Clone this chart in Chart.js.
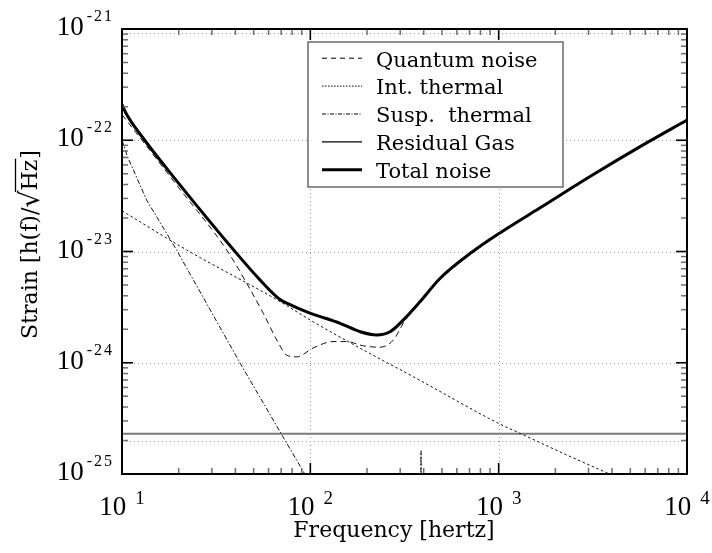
<!DOCTYPE html>
<html><head><meta charset="utf-8">
<script src="https://cdn.jsdelivr.net/npm/chart.js@4/dist/chart.umd.min.js"></script>
<style>html,body{margin:0;padding:0;background:#fff}canvas{display:block}</style>
</head><body>
<canvas id="c" width="712" height="553"></canvas>
<script>
// ---- data ----
const freqTotal = [10, 10.5, 13.2, 20, 39.8, 54, 69, 75, 99.5, 113, 144, 184, 225, 265, 312, 383, 489, 735, 1016, 1660, 3055, 5636, 10000];
const totalNoise = [2.09e-22, 1.75e-22, 1.0e-22, 4.1e-23, 1.0e-23, 5.56e-24, 3.7e-24, 3.43e-24, 2.79e-24, 2.6e-24, 2.26e-24, 1.9e-24, 1.78e-24, 1.9e-24, 2.43e-24, 3.55e-24, 5.75e-24, 1.01e-23, 1.47e-23, 2.47e-23, 4.72e-23, 8.77e-23, 1.52e-22];

const freqQuantum = [10, 10.5, 13.2, 20, 36, 45.9, 56.2, 66.4, 75, 84.7, 103.7, 132, 156, 191, 234, 276, 318, 383, 489, 735, 1016, 1660, 3055, 5636, 10000];
const quantumNoise = [1.7e-22, 1.53e-22, 9.3e-23, 3.75e-23, 1.03e-23, 5.19e-24, 2.79e-24, 1.6e-24, 1.17e-24, 1.13e-24, 1.36e-24, 1.55e-24, 1.55e-24, 1.42e-24, 1.38e-24, 1.6e-24, 2.4e-24, 3.47e-24, 5.6e-24, 0.99e-23, 1.45e-23, 2.45e-23, 4.68e-23, 8.7e-23, 1.5e-22];

const freqInt = [10, 22.1, 69, 99.5, 184, 352, 995, 1300, 2208, 3828, 10000];
const intThermal = [2.32e-23, 1.03e-23, 3.55e-24, 2.43e-24, 1.35e-24, 7.5e-25, 2.86e-25, 2.32e-25, 1.53e-25, 1.01e-25, 4.9e-26];

const freqSusp = [10, 10.7, 13.5, 19.5, 42.4, 69, 91.8, 126, 380, 387, 394, 1000, 10000];
const suspThermal = [1.0e-22, 7.1e-23, 2.91e-23, 1.03e-23, 9.9e-25, 2.4e-25, 1.05e-25, 4.2e-26, 1.5e-27, 1.62e-25, 1.5e-27, 1e-28, 1e-31];

const freqGas = [10, 10000];
const residualGas = [2.3e-25, 2.3e-25];

const xTickValues = [10, 100, 1000, 10000];
const xTickExponents = ['1', '2', '3', '4'];
const yTickValues = [1e-21, 1e-22, 1e-23, 1e-24, 1e-25];
const yTickExponents = ['-21', '-22', '-23', '-24', '-25'];
const xGridValues = [100, 1000];
const yGridValues = [9.2e-22, 1e-22, 1e-23, 1e-24, 2e-25];

const legendLabels = ['Quantum noise', 'Int. thermal', 'Susp.  thermal', 'Residual Gas', 'Total noise'];
const xTitle = 'Frequency [hertz]';

const pts = (xs, ys) => xs.map((x, i) => ({x, y: ys[i]}));

const datasets = [
  {label: legendLabels[4], data: pts(freqTotal, totalNoise), borderColor: '#000', borderWidth: 3, cubicInterpolationMode: 'monotone', order: 0, legendDash: [], legendWidth: 3, legendColor: '#000', legendPos: 4},
  {label: legendLabels[0], data: pts(freqQuantum, quantumNoise), borderColor: '#111', borderWidth: 1, borderDash: [6, 4], cubicInterpolationMode: 'monotone', order: 1, legendDash: [5, 4], legendWidth: 1, legendColor: '#000', legendPos: 0},
  {label: legendLabels[1], data: pts(freqInt, intThermal), borderColor: '#111', borderWidth: 1, borderDash: [2.5, 2.5], cubicInterpolationMode: 'monotone', order: 2, legendDash: [1.5, 1.5], legendWidth: 1, legendColor: '#000', legendPos: 1},
  {label: legendLabels[2], data: pts(freqSusp, suspThermal), borderColor: '#111', borderWidth: 1, borderDash: [5, 2, 1.5, 2], order: 3, legendDash: [4, 1.5, 1, 1.5], legendWidth: 1, legendColor: '#000', legendPos: 2},
  {label: legendLabels[3], data: pts(freqGas, residualGas), borderColor: '#7a7a7a', borderWidth: 2, order: 4, legendDash: [], legendWidth: 1.2, legendColor: '#000', legendPos: 3}
];

function supLabel(ctx, base, exp, x, yBase, yExp, baseFont, expFont, gap, align, spacing) {
  ctx.font = baseFont; const wb = ctx.measureText(base).width;
  ctx.font = expFont; ctx.letterSpacing = spacing; const we = ctx.measureText(exp).width;
  ctx.letterSpacing = '0px';
  const total = wb + gap + we;
  let x0 = align === 'right' ? x - total : x - total / 2;
  ctx.textAlign = 'left';
  ctx.font = baseFont; ctx.fillText(base, x0, yBase);
  ctx.font = expFont; ctx.letterSpacing = spacing; ctx.fillText(exp, x0 + wb + gap, yExp);
  ctx.letterSpacing = '0px';
}

const decor = {
  id: 'decor',
  beforeDatasetsDraw(chart) {
    const {ctx, chartArea: a, scales: {x, y}} = chart;
    ctx.save();
    ctx.strokeStyle = '#9a9a9a'; ctx.lineWidth = 1; ctx.setLineDash([1, 3]);
    for (const v of yGridValues) {
      const py = Math.round(y.getPixelForValue(v)) + 0.5;
      ctx.beginPath(); ctx.moveTo(a.left, py); ctx.lineTo(a.right, py); ctx.stroke();
    }
    for (const v of xGridValues) {
      const px = Math.round(x.getPixelForValue(v)) + 0.5;
      ctx.beginPath(); ctx.moveTo(px, a.top); ctx.lineTo(px, a.bottom); ctx.stroke();
    }
    ctx.restore();
  },
  afterDraw(chart) {
    const {ctx, chartArea: a, scales: {x, y}} = chart;
    ctx.save();
    ctx.setLineDash([]);
    // ticks
    const tick = (px, py, dx, dy, major) => {
      ctx.strokeStyle = major ? '#000' : '#6e6e6e';
      ctx.lineWidth = major ? 1.6 : 1.5;
      ctx.beginPath(); ctx.moveTo(px, py); ctx.lineTo(px + dx, py + dy); ctx.stroke();
    };
    for (let e = 1; e <= 4; e++) {
      for (let m = 1; m <= 9; m++) {
        const v = m * Math.pow(10, e);
        if (v > 10000) break;
        const major = m === 1;
        const L = major ? 11 : 6;
        const px = x.getPixelForValue(v);
        tick(px, a.bottom, 0, -L, major); tick(px, a.top, 0, L, major);
      }
    }
    for (let e = -25; e <= -21; e++) {
      for (let m = 1; m <= 9; m++) {
        const v = m * Math.pow(10, e);
        if (e === -21 && m > 1) break;
        const major = m === 1;
        const L = major ? 11 : 6;
        const py = y.getPixelForValue(v);
        tick(a.left, py, L, 0, major); tick(a.right, py, -L, 0, major);
      }
    }
    // border
    ctx.strokeStyle = '#000'; ctx.lineWidth = 2;
    ctx.strokeRect(a.left, a.top, a.right - a.left, a.bottom - a.top);
    // tick labels
    ctx.fillStyle = '#000'; ctx.textBaseline = 'alphabetic';
    xTickValues.forEach((v, i) => {
      const px = x.getPixelForValue(v);
      supLabel(ctx, '10', xTickExponents[i], px, a.bottom + 41, a.bottom + 30, '27px "Liberation Serif"', '19px "Liberation Serif"', 9, 'center', '0px');
    });
    yTickValues.forEach((v, i) => {
      const py = y.getPixelForValue(v);
      supLabel(ctx, '10', yTickExponents[i], a.left - 8, py + 6, py - 8, '27px "Liberation Serif"', '16px "Liberation Serif"', 3, 'right', '2px');
    });
    // x title
    ctx.font = '22px "DejaVu Serif"'; ctx.textAlign = 'center';
    ctx.fillText(xTitle, 394, 537);
    // y title
    ctx.save();
    ctx.translate(37, 245); ctx.rotate(-Math.PI / 2);
    ctx.textAlign = 'left';
    const p1 = 'Strain [h(f)/', p2 = '\u221A', p3 = 'Hz', p4 = ']';
    ctx.font = '22px "DejaVu Serif"';
    const w1 = ctx.measureText(p1).width, w3 = ctx.measureText(p3).width, w4 = ctx.measureText(p4).width;
    ctx.font = '27px "DejaVu Serif"';
    const w2 = ctx.measureText(p2).width;
    const s = -(w1 + w2 + w3 + w4) / 2;
    ctx.font = '22px "DejaVu Serif"'; ctx.fillText(p1, s, 0);
    ctx.font = '27px "DejaVu Serif"'; ctx.fillText(p2, s + w1, 2);
    ctx.font = '22px "DejaVu Serif"'; ctx.fillText(p3, s + w1 + w2, 0); ctx.fillText(p4, s + w1 + w2 + w3 + 1, 0);
    ctx.strokeStyle = '#000'; ctx.lineWidth = 1.3;
    ctx.beginPath(); ctx.moveTo(s + w1 + w2 - 1.5, -21.5); ctx.lineTo(s + w1 + w2 + w3 + 1, -21.5); ctx.stroke();
    ctx.restore();
    // legend
    const lx = 308, ly = 42, lw = 255, lh = 145;
    ctx.fillStyle = '#fff'; ctx.fillRect(lx, ly, lw, lh);
    ctx.strokeStyle = '#6a6a6a'; ctx.lineWidth = 1.5; ctx.strokeRect(lx, ly, lw, lh);
    const items = chart.data.datasets.slice().sort((p, q) => p.legendPos - q.legendPos);
    items.forEach((ds, i) => {
      const base = 66.5 + i * 27.9;
      const sy = base - 8.3;
      ctx.strokeStyle = ds.legendColor; ctx.lineWidth = ds.legendWidth; ctx.setLineDash(ds.legendDash);
      ctx.beginPath(); ctx.moveTo(322, sy); ctx.lineTo(362, sy); ctx.stroke();
      ctx.setLineDash([]);
      ctx.fillStyle = '#000'; ctx.font = '21px "DejaVu Serif"'; ctx.textAlign = 'left';
      ctx.fillText(ds.label, 376, base);
    });
    ctx.restore();
  }
};

new Chart(document.getElementById('c'), {
  type: 'line',
  data: {datasets},
  options: {
    responsive: false, animation: false, devicePixelRatio: 1,
    layout: {padding: {left: 122, top: 29, right: 25, bottom: 79}},
    elements: {point: {radius: 0}, line: {fill: false, tension: 0}},
    scales: {
      x: {type: 'logarithmic', min: 10, max: 10000, display: false},
      y: {type: 'logarithmic', min: 1e-25, max: 1e-21, display: false}
    },
    plugins: {legend: {display: false}, tooltip: {enabled: false}}
  },
  plugins: [decor]
});
</script>
</body></html>
